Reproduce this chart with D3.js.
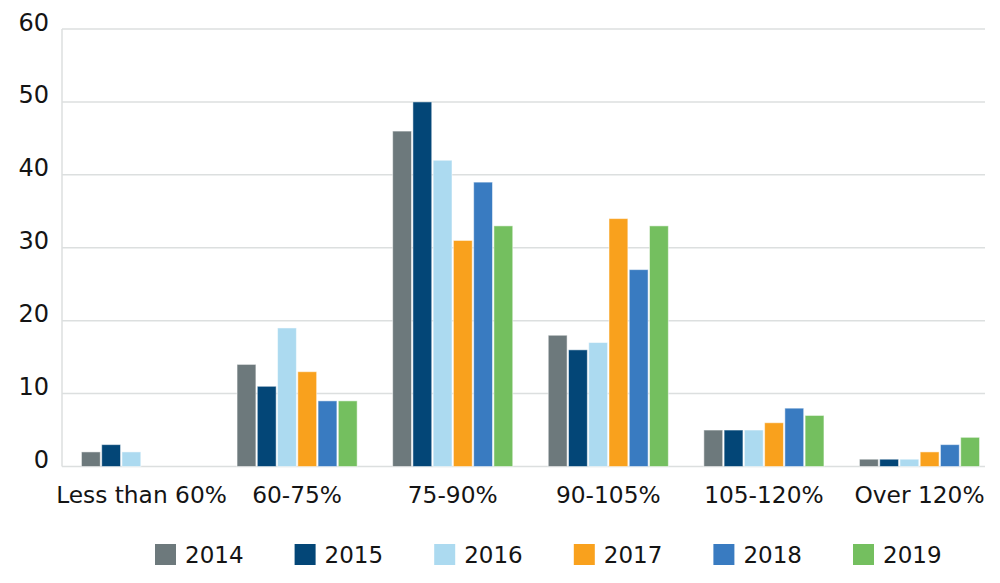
<!DOCTYPE html>
<html>
<head>
<meta charset="utf-8">
<script src="https://cdn.jsdelivr.net/npm/d3@7"></script>
<style>
  body { margin: 0; background: #fff; }
  text { font-family: "DejaVu Sans", sans-serif; fill: #141414; }
</style>
</head>
<body>
<div id="chart"></div>
<script>
var categories = ["Less than 60%", "60-75%", "75-90%", "90-105%", "105-120%", "Over 120%"];
var years = ["2014", "2015", "2016", "2017", "2018", "2019"];
var colors = ["#6d797c", "#034677", "#acdaf0", "#f9a11d", "#397bc1", "#74bf5f"];
var yTicks = [0, 10, 20, 30, 40, 50, 60];

// one array per year, one value per category
var v2014 = [2, 14, 46, 18, 5, 1];
var v2015 = [3, 11, 50, 16, 5, 1];
var v2016 = [2, 19, 42, 17, 5, 1];
var v2017 = [0, 13, 31, 34, 6, 2];
var v2018 = [0, 9, 39, 27, 8, 3];
var v2019 = [0, 9, 33, 33, 7, 4];
var series = [v2014, v2015, v2016, v2017, v2018, v2019];

function draw() {
    var w = 1000, h = 583;
    var plotLeft = 62, plotRight = 985, plotTop = 29, plotBottom = 466.5;

    var svg = d3.select("#chart").append("svg").attr("width", w).attr("height", h);

    var y = d3.scaleLinear().domain([0, 60]).range([plotBottom, plotTop]);
    var x0 = d3.scaleBand().domain(categories).range([63.7, 997.3]).paddingInner(0.21).paddingOuter(0.105);
    var x1 = d3.scaleBand().domain(years).range([0, x0.bandwidth()]).padding(0.07);

    // gridlines
    svg.append("g").selectAll("line")
        .data(yTicks)
        .enter()
        .append("line")
        .attr("x1", plotLeft)
        .attr("x2", plotRight)
        .attr("y1", d => y(d))
        .attr("y2", d => y(d))
        .attr("stroke", "#dcdfdf")
        .attr("stroke-width", 1.5);

    svg.append("line")
        .attr("x1", plotLeft).attr("x2", plotLeft)
        .attr("y1", plotTop).attr("y2", plotBottom)
        .attr("stroke", "#dcdfdf")
        .attr("stroke-width", 1.5);

    // y labels
    svg.append("g").selectAll("text")
        .data(yTicks)
        .enter()
        .append("text")
        .attr("x", 49)
        .attr("y", d => y(d) + 1.5)
        .attr("text-anchor", "end")
        .style("font-size", "24px")
        .text(d => d);

    // bars
    var groups = svg.append("g").selectAll("g")
        .data(categories)
        .enter()
        .append("g")
        .attr("transform", d => "translate(" + x0(d) + ",0)");

    groups.selectAll("rect")
        .data((d, i) => years.map((yr, j) => ({ year: yr, value: series[j][i], color: colors[j] })))
        .enter()
        .append("rect")
        .attr("x", d => x1(d.year))
        .attr("y", d => y(d.value))
        .attr("width", x1.bandwidth())
        .attr("height", d => plotBottom - y(d.value))
        .attr("fill", d => d.color)
        .attr("stroke", "#ffffff")
        .attr("stroke-opacity", 0.5)
        .attr("stroke-width", 1);

    // category labels
    svg.append("g").selectAll("text")
        .data(categories)
        .enter()
        .append("text")
        .attr("x", d => x0(d) + x0.bandwidth() / 2)
        .attr("y", 503)
        .attr("text-anchor", "middle")
        .style("font-size", "23.3px")
        .text(d => d);

    // legend
    var legend = svg.append("g").selectAll("g")
        .data(years)
        .enter()
        .append("g")
        .attr("transform", (d, i) => "translate(" + (155 + i * 139.6) + ",544)");

    legend.append("rect")
        .attr("width", 21)
        .attr("height", 21)
        .attr("fill", (d, i) => colors[i]);

    legend.append("text")
        .attr("x", 30)
        .attr("y", 18.5)
        .style("font-size", "23px")
        .text(d => d);
}

document.addEventListener('DOMContentLoaded', () => {
    draw();
});
</script>
</body>
</html>
